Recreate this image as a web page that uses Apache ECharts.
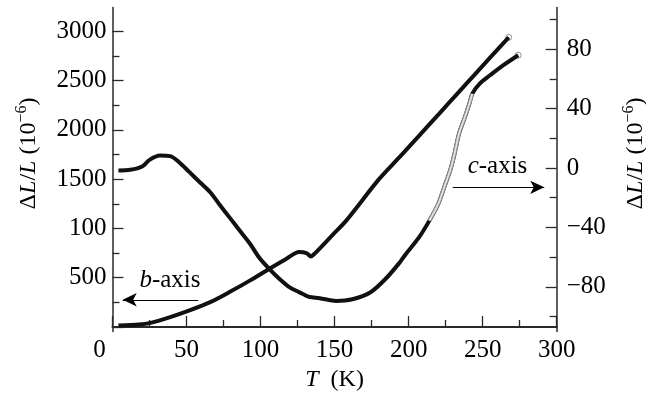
<!DOCTYPE html>
<html>
<head>
<meta charset="utf-8">
<script src="https://cdn.jsdelivr.net/npm/echarts@6/dist/echarts.min.js"></script>
<style>
  html, body { margin: 0; padding: 0; background: #fff; }
  #chart { width: 646px; height: 394px; }
</style>
</head>
<body>
<div id="chart"></div>
<script>
// b-axis: temperature (K) / strain (left scale, 10^-6)
const bTemp = [4, 18, 25, 39, 52, 66, 79, 93, 106, 117.5, 126, 131, 134, 136.5, 149, 158, 180, 194, 207, 221, 234, 244, 255, 267.6];
const bStrain = [15, 25, 39, 100, 168, 252, 354, 473, 591, 693, 760, 750, 716, 744, 940, 1082, 1500, 1726, 1940, 2171, 2386, 2551, 2733, 2939];

// c-axis: temperature (K) / strain (right scale, 10^-6)
const cTemp = [4, 12, 20, 25, 32, 39, 45, 52, 59, 66, 72, 79, 86, 93, 99, 106, 113, 120, 126, 131, 133, 140, 151, 162, 174, 185, 194, 198, 207, 214, 220, 224, 228, 231, 234, 238, 241, 243, 248, 255, 264, 274];
const cStrain = [-1.7, -1.2, 1.0, 5.5, 8.4, 8.0, 3.9, -2.8, -9.6, -16.3, -24.2, -33.2, -42.2, -51.1, -60.2, -68, -74.8, -80.5, -83.5, -86, -86.8, -87.6, -89.4, -88.3, -83.8, -74, -63.5, -58, -46.7, -35.4, -24.2, -13, -1.7, 9.6, 23, 34.3, 43.3, 50, 56.8, 62.4, 69.2, 75.9];
// temperature range where the c-axis curve is drawn light grey
const cGreyRange = [214, 243];

const leftMajor = [0, 500, 1000, 1500, 2000, 2500, 3000];
const leftLabels = [500, 1000, 1500, 2000, 2500, 3000];
const leftLabelText = ['500', '100', '1500', '2000', '2500', '3000'];
const leftMinor = [250, 750, 1250, 1750, 2250, 2750];
const rightLabels = [-80, -40, 0, 40, 80];
const rightMinor = [-100, -60, -20, 20, 60, 100];

const F = 'Liberation Serif, DejaVu Serif, serif';
const AX = '#2a2a2a';

const bData = bTemp.map((t, i) => [t, bStrain[i]]);
const cData = cTemp.map((t, i) => [t, cStrain[i]]);
const cGrey = cData.filter(d => d[0] >= cGreyRange[0] && d[0] <= cGreyRange[1]);

const nameRich = {
    r: { fontSize: 24, fontFamily: F, color: '#000', lineHeight: 30 },
    i: { fontSize: 24, fontFamily: F, color: '#000', fontStyle: 'italic', lineHeight: 30 },
    s: { fontSize: 16, fontFamily: F, color: '#000', verticalAlign: 'top', lineHeight: 16 }
};
const strainName = '{r|Δ}{i|L}{r|/}{i|L}{r| (10}{s|−6}{r|)}';
const labelFont = { fontSize: 25, fontFamily: F, color: '#000' };
const tagRich = {
    r: { fontSize: 25, fontFamily: F, color: '#000' },
    i: { fontSize: 25, fontFamily: F, color: '#000', fontStyle: 'italic' }
};

const yBase = {
    type: 'value',
    splitLine: { show: false },
    axisLine: { show: true, lineStyle: { color: AX, width: 1.5 } },
    axisTick: { show: true, inside: true, length: 11, lineStyle: { color: AX, width: 1.3 } },
    axisLabel: { show: false }
};

const lineBase = { type: 'line', xAxisIndex: 0, showSymbol: false, smooth: 0.3 };

const option = {
    animation: false,
    textStyle: { fontFamily: F },
    grid: { left: 112.5, right: 89.3, top: 7.5, bottom: 62.5, containLabel: false, outerBoundsMode: 'none' },
    xAxis: [
        {
            type: 'value', min: 0, max: 300, interval: 50,
            name: '{i|T}{r|  (K)}', nameLocation: 'middle', nameGap: 31,
            nameTextStyle: { rich: nameRich },
            splitLine: { show: false },
            axisLine: { lineStyle: { color: AX, width: 1.5 } },
            axisTick: { inside: true, length: 11, lineStyle: { color: AX, width: 1.3 } },
            minorTick: { show: true, splitNumber: 2, length: 7, lineStyle: { color: AX, width: 1.3 } },
            axisLabel: {
                margin: 6, ...labelFont,
                formatter: v => v === 0 ? '{z|0}' : String(v),
                rich: { z: { ...labelFont, padding: [0, 26, 0, 0] } }
            }
        },
        {
            type: 'value', position: 'top', min: 0, max: 300,
            axisLine: { show: true, lineStyle: { color: AX, width: 2 } },
            axisTick: { show: false }, axisLabel: { show: false }, splitLine: { show: false }
        }
    ],
    yAxis: [
        {
            ...yBase, position: 'left', min: -46, max: 3242,
            name: strainName, nameLocation: 'middle', nameRotate: 90, nameGap: 69,
            nameTextStyle: { rich: nameRich, padding: [0, 0, 0, 32] },
            axisTick: { ...yBase.axisTick, customValues: leftMajor },
            axisLabel: {
                show: true, margin: 6, ...labelFont, customValues: leftLabels,
                formatter: v => leftLabelText[leftLabels.indexOf(v)]
            }
        },
        {
            ...yBase, position: 'left', min: -46, max: 3242,
            axisLine: { show: false },
            axisTick: { ...yBase.axisTick, length: 7, customValues: leftMinor }
        },
        {
            ...yBase, position: 'right', min: -110, max: 108,
            name: strainName, nameLocation: 'middle', nameRotate: 90, nameGap: 64,
            nameTextStyle: { rich: nameRich, padding: [0, 0, 0, 32] },
            axisTick: { ...yBase.axisTick, customValues: rightLabels },
            axisLabel: {
                show: true, margin: 10, ...labelFont, customValues: rightLabels,
                formatter: v => v < 0 ? '\u2212' + Math.abs(v) : String(v)
            }
        },
        {
            ...yBase, position: 'right', min: -110, max: 108,
            axisLine: { show: false },
            axisTick: { ...yBase.axisTick, length: 7, customValues: rightMinor }
        }
    ],
    series: [
        {
            ...lineBase, name: 'b-axis', yAxisIndex: 0, data: bData,
            lineStyle: { color: '#111', width: 4 },
            markLine: {
                silent: true, symbol: ['arrow', 'none'], symbolSize: [10, 14],
                label: { show: false },
                lineStyle: { color: '#000', width: 1.2, type: 'solid' },
                data: [[{ coord: [6.9, 276] }, { coord: [57.9, 276] }]]
            },
            markPoint: {
                silent: true, symbol: 'rect', symbolSize: 1,
                itemStyle: { color: 'rgba(0,0,0,0)' },
                label: { show: true, position: 'inside', formatter: '{i|b}{r|-axis}', rich: tagRich },
                data: [{ coord: [38.8, 473] }]
            }
        },
        {
            ...lineBase, name: 'c-axis', yAxisIndex: 2, data: cData,
            lineStyle: { color: '#111', width: 4 },
            markLine: {
                silent: true, symbol: ['none', 'arrow'], symbolSize: [10, 14],
                label: { show: false },
                lineStyle: { color: '#000', width: 1.2, type: 'solid' },
                data: [[{ coord: [229.8, -13] }, { coord: [291.6, -13] }]]
            },
            markPoint: {
                silent: true, symbol: 'rect', symbolSize: 1,
                itemStyle: { color: 'rgba(0,0,0,0)' },
                label: { show: true, position: 'inside', formatter: '{i|c}{r|-axis}', rich: tagRich },
                data: [{ coord: [260, 1] }]
            }
        },
        {
            ...lineBase, yAxisIndex: 2, data: cGrey, silent: true,
            lineStyle: { color: '#8c8c8c', width: 4 }
        },
        {
            ...lineBase, yAxisIndex: 2, data: cGrey, silent: true,
            lineStyle: { color: '#e4e4e4', width: 1.8 }
        },
        {
            type: 'scatter', xAxisIndex: 0, yAxisIndex: 0, data: [bData[bData.length - 1]],
            symbolSize: 6, itemStyle: { color: '#fff', borderColor: '#777', borderWidth: 1 }
        },
        {
            type: 'scatter', xAxisIndex: 0, yAxisIndex: 2, data: [cData[cData.length - 1]],
            symbolSize: 6, itemStyle: { color: '#fff', borderColor: '#777', borderWidth: 1 }
        }
    ]
};

const chart = echarts.init(document.getElementById('chart'));
chart.setOption(option);
</script>
</body>
</html>
